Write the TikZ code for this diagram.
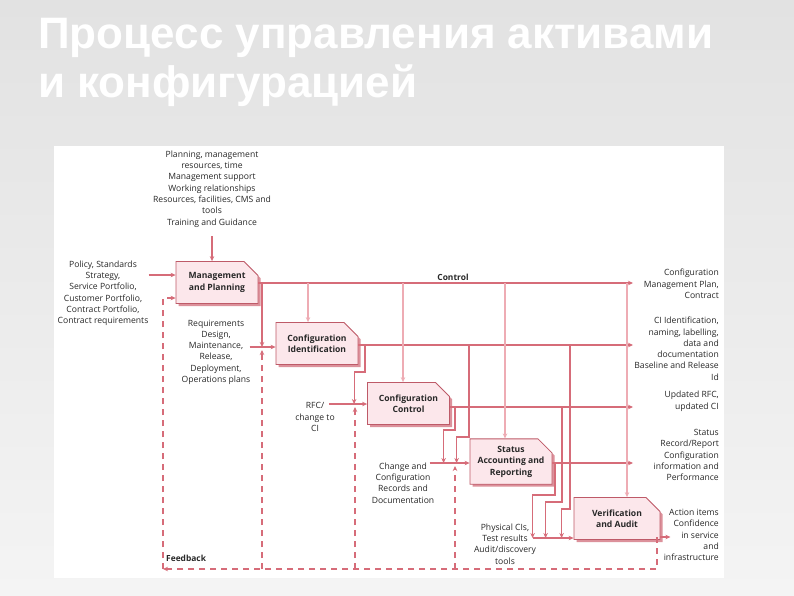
\documentclass[tikz,border=0pt]{standalone}
\usepackage{fontspec}
\setmainfont{Open Sans}
\newfontfamily\titlefont{Liberation Sans}
\usetikzlibrary{arrows.meta,shapes.misc,shadows}

\definecolor{cmline}{RGB}{214,108,121}
\definecolor{cmpale}{RGB}{238,172,180}
\definecolor{cmfill}{RGB}{252,231,235}
\definecolor{cmedge}{RGB}{190,90,104}
\definecolor{cmshade}{RGB}{220,145,155}
\definecolor{cmtext}{RGB}{40,40,40}
\definecolor{cmbgtop}{RGB}{226,226,226}
\definecolor{cmbgbot}{RGB}{244,244,244}

\tikzset{
  procbox/.style={chamfered rectangle, chamfered rectangle corners=north east,
    chamfered rectangle sep=7pt, draw=cmedge, line width=0.8pt, fill=cmfill,
    minimum width=82pt, minimum height=42pt, inner sep=0pt, align=center,
    font=\fontsize{8.6}{11.5}\selectfont\bfseries, text=cmtext,
    drop shadow={shadow xshift=2.5pt, shadow yshift=-2.5pt, fill=cmshade, opacity=1}},
  flow/.style={draw=cmline, line width=1.1pt, -{Stealth[length=5pt,width=4.5pt]}},
  ctrl/.style={draw=cmpale, line width=1.1pt, -{Stealth[length=5pt,width=4.5pt]}},
  fback/.style={draw=cmline, line width=1.1pt, dash pattern=on 6pt off 5pt},
  note/.style={align=center, font=\fontsize{8.6}{11.3}\selectfont, text=cmtext, inner sep=0pt},
  outnote/.style={note, align=right, anchor=north east},
  tag/.style={font=\fontsize{8.4}{9}\selectfont\bfseries, text=cmtext, inner sep=0pt},
  title/.style={font=\titlefont\bfseries\fontsize{44}{49}\selectfont, text=white, inner sep=0pt}
}

\begin{document}
\begin{tikzpicture}[x=1pt,y=-1pt]
\useasboundingbox (0,0) rectangle (794,595);
\shade[top color=cmbgtop, bottom color=cmbgbot] (0,0) rectangle (794,595);
\fill[white] (54,146) rectangle (724,578);

\node[title, anchor=base west] (title1) at (38,48) {Процесс управления активами};
\node[title, anchor=base west] (title2) at (38,97) {и конфигурацией};

% process boxes
\node[procbox] (mp) at (217,282.5) {Management\\and Planning};
\node[procbox] (ci) at (317,343.5) {Configuration\\Identification};
\node[procbox] (cc) at (408.5,403.5) {Configuration\\Control};
\node[procbox] (sa) at (511,461.5) {Status\\Accounting and\\Reporting};
\node[procbox, minimum width=86pt] (va) at (617,518.5) {Verification\\and Audit};

% inputs
\node[note, anchor=north] (tPlan) at (212,150.5) {Planning, management\\resources, time\\Management support\\Working relationships\\Resources, facilities, CMS and\\tools\\Training and Guidance};
\node[note, anchor=north] (tPolicy) at (103,260.5) {Policy, Standards\\Strategy,\\Service Portfolio,\\Customer Portfolio,\\Contract Portfolio,\\Contract requirements};
\node[note, anchor=north] (tReq) at (216,319.5) {Requirements\\Design,\\Maintenance,\\Release,\\Deployment,\\Operations plans};
\node[note, anchor=north] (tRfc) at (315,402.5) {RFC/\\change to\\CI};
\node[note, anchor=north] (tRec) at (403,462.5) {Change and\\Configuration\\Records and\\Documentation};
\node[note, anchor=north] (tPhys) at (505,523.5) {Physical CIs,\\Test results\\Audit/discovery\\tools};

% outputs
\node[outnote] (oPlan) at (719,269) {Configuration\\Management Plan,\\Contract};
\node[outnote] (oIdent) at (719,317) {CI Identification,\\naming, labelling,\\data and\\documentation\\Baseline and Release\\Id};
\node[outnote] (oRfc) at (719,391) {Updated RFC,\\updated CI};
\node[outnote] (oStatus) at (719,429) {Status\\Record/Report\\Configuration\\information and\\Performance};
\node[outnote] (oAction) at (719,509) {Action items\\Confidence\\in service\\and\\infrastructure};

\node[tag] (ctl) at (453,277) {Control};
\node[tag, anchor=west] (fbtxt) at (166,558) {Feedback};

% ports
\coordinate (mpin1) at ([yshift=7.5pt]mp.west);
\coordinate (mpin2) at ([yshift=-15.5pt]mp.west);
\coordinate (ciin) at ([yshift=-3.5pt]ci.west);
\coordinate (ccin) at ([yshift=-0.5pt]cc.west);
\coordinate (sain) at ([yshift=-1.5pt]sa.west);
\coordinate (vain) at ([yshift=-19.5pt]va.west);
\coordinate (mpout) at ([yshift=-0.5pt]mp.east);
\coordinate (ciout) at ([yshift=-1.5pt]ci.east);
\coordinate (ccout) at ([yshift=-3.5pt]cc.east);
\coordinate (saout) at ([yshift=-1.5pt]sa.east);
\coordinate (vaout) at ([yshift=-18.5pt]va.east);
\coordinate (rail) at (633,0);

% inputs arrows
\draw[flow] ([yshift=-9pt]tPlan.south) -- (tPlan.south |- mp.north);
\draw[flow] (mpin1 -| tPolicy.east) -- (mpin1);
\draw[flow] ([xshift=-26pt]ciin) -- (ciin);
\draw[flow] ([xshift=-38pt]ccin) -- (ccin);
\draw[flow] ([xshift=-40pt]sain) -- (sain);
\draw[flow] ([xshift=-41pt]vain) -- (vain);

% outputs
\draw[flow] (mpout) -- (mpout -| rail);
\draw[flow] (ciout) -- (ciout -| rail);
\draw[flow] (ccout) -- (ccout -| rail);
\draw[flow] (saout) -- (saout -| rail);
\draw[flow] (vaout) -- ++(10,0);

% control drops
\coordinate (c1) at (308,283);
\coordinate (c2) at (403,283);
\coordinate (c3) at (505,283);
\coordinate (c4) at (627,283);
\draw[ctrl] (c1) -- (c1 |- ci.north);
\draw[ctrl] (c2) -- (c2 |- cc.north);
\draw[ctrl] (c3) -- (c3 |- sa.north);
\draw[ctrl] (c4) -- (c4 |- va.north);

% hand-overs between stages
\coordinate (f1) at (262,283);
\coordinate (f2) at (365,345);
\coordinate (f3) at (455,407);
\coordinate (f4) at (469,345);
\coordinate (f5) at (555,463);
\coordinate (f6) at (562,407);
\coordinate (f7) at (570,345);
\draw[flow] (f1) -- (f1 |- ciin);
\draw[flow] (f2) -- ++(0,27) -| ([xshift=-13pt]ccin);
\draw[flow] (f3) -- ++(0,23) -| ([xshift=-26pt]sain);
\draw[flow] (f4) -- ++(0,92) -| ([xshift=-13pt]sain);
\draw[flow] (f5) -- ++(0,32) -| ([xshift=-41pt]vain);
\draw[flow] (f6) -- ++(0,95) -| ([xshift=-28pt]vain);
\draw[flow] (f7) -- ++(0,164) -| ([xshift=-12pt]vain);

% feedback
\coordinate (fbR) at (657,537);
\coordinate (fbL) at (163,569);
\coordinate (u1) at (262,569);
\coordinate (u2) at (355,569);
\coordinate (u3) at (455,569);
\draw[fback, -{Stealth[length=5pt,width=4.5pt]}] (fbR) -- (fbR |- fbL) -- (fbL);
\draw[fback, -{Stealth[length=5pt,width=4.5pt]}] (fbL) |- (mpin2);
\draw[fback, -{Stealth[length=5pt,width=4.5pt]}] (u1) -- ([yshift=-3pt]u1 |- ciin);
\draw[fback, -{Stealth[length=5pt,width=4.5pt]}] (u2) -- ([yshift=-3pt]u2 |- ccin);
\draw[fback, -{Stealth[length=5pt,width=4.5pt]}] (u3) -- ([yshift=-3pt]u3 |- sain);
\end{tikzpicture}
\end{document}
